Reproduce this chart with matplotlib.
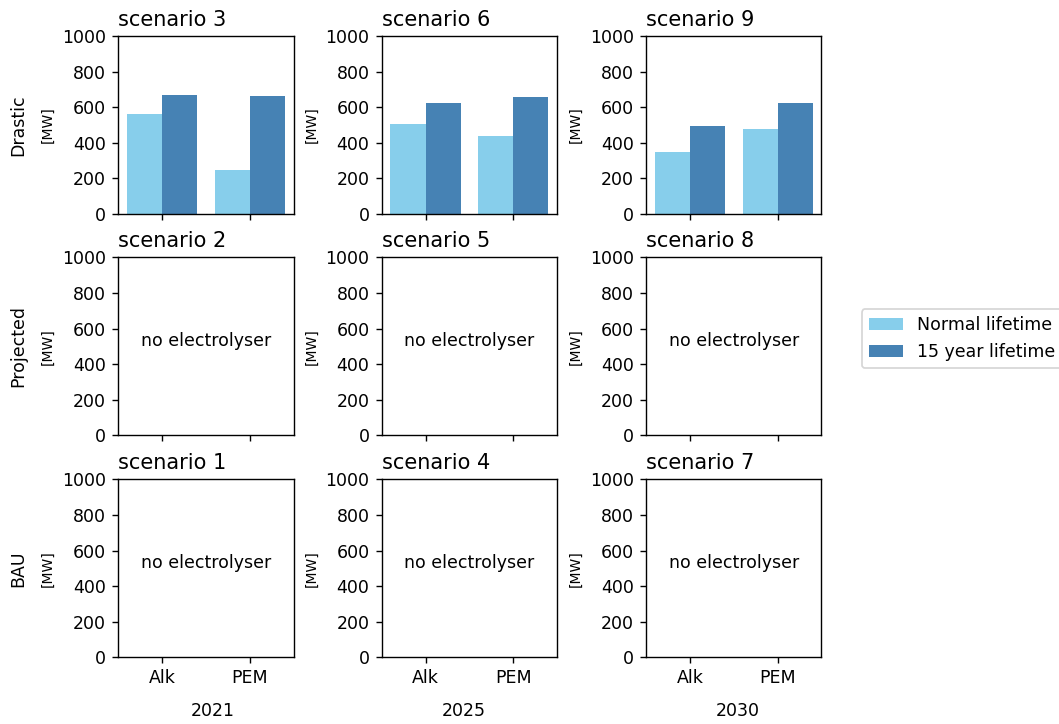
import matplotlib
matplotlib.use("Agg")
import matplotlib.pyplot as plt
from matplotlib.patches import Patch
import numpy as np

W, H, DPI = 1059, 724, 125

technologies = ["Alk", "PEM"]
years = ["2021", "2025", "2030"]
rows = ["Drastic", "Projected", "BAU"]
scenario_grid = [[3, 6, 9], [2, 5, 8], [1, 4, 7]]
series_names = ["Normal lifetime", "15 year lifetime"]
colors = ["#87CEEB", "#4682B4"]

# capacity [MW] per scenario for Alk, PEM
normal_lifetime = {3: [560, 250], 6: [503, 441], 9: [350, 480]}
long_lifetime = {3: [667, 665], 6: [621, 655], 9: [492, 621]}

fig = plt.figure(figsize=(W / DPI, H / DPI), dpi=DPI)

col_left = [118, 381.7, 646]
ax_w = 175.5
row_top = [36, 257.3, 479.3]
ax_h = 178
year_x = [213, 464, 738]

x = np.arange(len(technologies))
bw = 0.4
for r in range(3):
    for c in range(3):
        left = col_left[c] / W
        bottom = 1 - (row_top[r] + ax_h) / H
        ax = fig.add_axes([left, bottom, ax_w / W, ax_h / H])
        sc = scenario_grid[r][c]
        if sc in normal_lifetime:
            ax.bar(x - bw / 2, normal_lifetime[sc], width=bw, color=colors[0])
            ax.bar(x + bw / 2, long_lifetime[sc], width=bw, color=colors[1])
        else:
            ax.text(0.5, 528, "no electrolyser", ha="center", va="center", fontsize=10)
        ax.set_xlim(-0.5, 1.5)
        ax.set_ylim(0, 1000)
        ax.set_yticks([0, 200, 400, 600, 800, 1000])
        ax.set_xticks(x)
        if r == 2:
            ax.set_xticklabels(technologies)
        else:
            ax.set_xticklabels([])
        ax.set_ylabel("[MW]", fontsize=8)
        ax.set_title(f"scenario {sc}", loc="left", fontsize=12)

for r in range(3):
    yc = 1 - (row_top[r] + ax_h / 2) / H
    fig.text(18.5 / W, yc, rows[r], rotation=90, ha="center", va="center", fontsize=10)

for c in range(3):
    fig.text(year_x[c] / W, 1 - 710.7 / H, years[c], ha="center", va="center", fontsize=10)

handles = [Patch(facecolor=colors[i], label=series_names[i]) for i in range(2)]
fig.legend(handles=handles, loc="center left",
           bbox_to_anchor=(861.7 / W, 1 - 338.7 / H), borderaxespad=0, fontsize=10)

fig.savefig("out.png", dpi=DPI)
